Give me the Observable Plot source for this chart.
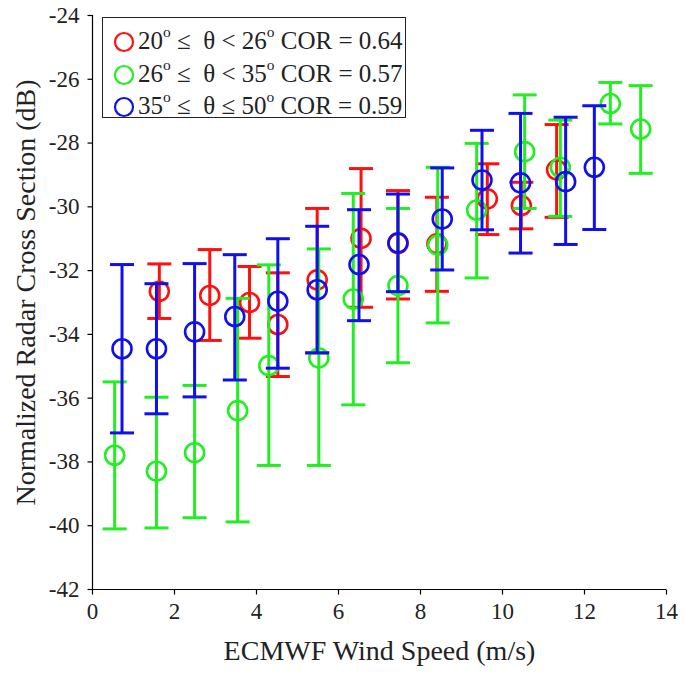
<!DOCTYPE html>
<html><head><meta charset="utf-8">
<script src="https://cdn.jsdelivr.net/npm/d3@7"></script>
<script src="https://cdn.jsdelivr.net/npm/@observablehq/plot@0.6"></script>
<style>
body{margin:0;background:#fff;}
#wrap{position:relative;width:684px;height:673px;font-family:"Liberation Serif","Times New Roman",serif;color:#000;}
#legend{position:absolute;left:102px;top:17px;width:304px;height:101px;border:1.5px solid #222;background:#fff;box-sizing:border-box;}
.row{position:absolute;left:0;height:32px;font-size:25px;line-height:32px;white-space:nowrap;color:#222;}
.row svg{position:absolute;left:10px;top:6px;}
.row span.t{position:absolute;left:35px;top:0;}
.row sup{font-size:0.62em;position:relative;top:-0.15em;vertical-align:super;line-height:0;}
</style>
</head><body>
<div id="wrap"><div id="chart"></div><div id="legend"></div></div>
<script>
// ---- data ----
const xTicks = [0, 2, 4, 6, 8, 10, 12, 14];
const yTicks = [-42, -40, -38, -36, -34, -32, -30, -28, -26, -24];
const xTickLabels = ["0", "2", "4", "6", "8", "10", "12", "14"];
const yTickLabels = ["-42", "-40", "-38", "-36", "-34", "-32", "-30", "-28", "-26", "-24"];

const seriesNames = ["20-26", "26-35", "35-50"];
const seriesColors = ["#ff1010", "#22ee22", "#1010ee"];
const legendLo = ["20", "26", "35"];
const legendHi = ["26", "35", "50"];
const legendOp1 = ["≤", "≤", "≤"];
const legendOp2 = ["<", "<", "≤"];
const corValues = ["0.64", "0.57", "0.59"];

// 20° ≤ θ < 26°
const redX  = [1.63, 2.86, 3.83, 4.52, 5.48, 6.55, 7.45, 8.40, 9.63, 10.46, 11.32];
const redY  = [-32.65, -32.78, -33.00, -33.69, -32.29, -30.99, -31.15, -31.16, -29.75, -29.96, -28.84];
const redLo = [-33.50, -34.19, -34.12, -35.32, -34.58, -33.15, -32.89, -32.65, -30.87, -30.69, -30.33];
const redHi = [-31.79, -31.34, -31.87, -32.07, -30.05, -28.80, -29.49, -29.70, -28.65, -29.23, -27.42];

// 26° ≤ θ < 35°
const greenX  = [0.54, 1.56, 2.49, 3.54, 4.30, 5.52, 6.36, 7.45, 8.42, 9.37, 10.54, 11.41, 12.63, 13.37];
const greenY  = [-37.79, -38.29, -37.71, -36.39, -34.98, -34.74, -32.89, -32.47, -31.20, -30.10, -28.27, -28.76, -26.76, -27.56];
const greenLo = [-40.10, -40.07, -39.75, -39.88, -38.11, -38.11, -36.21, -34.89, -33.64, -32.23, -30.05, -30.30, -27.40, -28.95];
const greenHi = [-35.49, -35.97, -35.60, -32.87, -31.82, -31.32, -29.58, -30.05, -28.76, -28.01, -26.49, -27.28, -26.10, -26.20];

// 35° ≤ θ ≤ 50°
const blueX  = [0.72, 1.56, 2.49, 3.47, 4.52, 5.48, 6.50, 7.45, 8.53, 9.50, 10.44, 11.54, 12.24];
const blueY  = [-34.45, -34.45, -33.92, -33.44, -32.96, -32.60, -31.81, -31.13, -30.38, -29.16, -29.25, -29.21, -28.76];
const blueLo = [-37.09, -36.49, -35.96, -35.43, -35.06, -34.58, -33.57, -32.66, -31.98, -30.72, -31.45, -31.18, -30.71];
const blueHi = [-31.81, -32.41, -31.78, -31.50, -31.00, -30.61, -30.09, -29.60, -28.78, -27.60, -27.07, -27.19, -26.83];

const xLabel = "ECMWF Wind Speed (m/s)";
const yLabel = "Normalized Radar Cross Section (dB)";

// ---- build ----
const serif = '"Liberation Serif", "Times New Roman", serif';
function rows(xs, ys, los, his) {
  return xs.map((x, i) => ({x, y: ys[i], lo: los[i], hi: his[i]}));
}
const series = [
  {data: rows(redX, redY, redLo, redHi), color: seriesColors[0]},
  {data: rows(greenX, greenY, greenLo, greenHi), color: seriesColors[1]},
  {data: rows(blueX, blueY, blueLo, blueHi), color: seriesColors[2]}
];

// symbol helpers (size = pi r^2)
const capSymbol = {
  draw(context, size) {
    const w = Math.sqrt(size / Math.PI);
    context.moveTo(-w, 0);
    context.lineTo(w, 0);
  }
};
const downTick = {
  draw(context, size) {
    const w = Math.sqrt(size / Math.PI);
    context.moveTo(0, 0);
    context.lineTo(0, w);
  }
};
const leftTick = {
  draw(context, size) {
    const w = Math.sqrt(size / Math.PI);
    context.moveTo(0, 0);
    context.lineTo(-w, 0);
  }
};

const marks = [];
for (const s of series) {
  marks.push(Plot.ruleX(s.data, {x: "x", y1: "lo", y2: "hi", stroke: s.color, strokeWidth: 3}));
  marks.push(Plot.dot(s.data, {x: "x", y: "lo", symbol: capSymbol, r: 12, fill: "none", stroke: s.color, strokeWidth: 3}));
  marks.push(Plot.dot(s.data, {x: "x", y: "hi", symbol: capSymbol, r: 12, fill: "none", stroke: s.color, strokeWidth: 3}));
  marks.push(Plot.dot(s.data, {x: "x", y: "y", r: 9.5, fill: "none", stroke: s.color, strokeWidth: 2.6}));
}

const xTickData = xTicks.map((v, i) => ({v, t: xTickLabels[i]}));
const yTickData = yTicks.map((v, i) => ({v, t: yTickLabels[i]}));

const chart = Plot.plot({
  width: 684,
  height: 673,
  marginLeft: 92,
  marginRight: 18,
  marginTop: 15,
  marginBottom: 84,
  style: {fontFamily: serif, fontSize: "23px", color: "#000", background: "#fff", overflow: "visible"},
  x: {domain: [0, 14], axis: null},
  y: {domain: [-42, -24], axis: null},
  marks: [
    Plot.dot(xTickData, {x: "v", y: () => -42, symbol: downTick, r: 5, fill: "none", stroke: "#000", strokeWidth: 1.2}),
    Plot.dot(yTickData, {x: () => 0, y: "v", symbol: leftTick, r: 5, fill: "none", stroke: "#000", strokeWidth: 1.2}),
    Plot.ruleX([0], {stroke: "#000", strokeWidth: 1.2}),
    Plot.ruleY([-42], {stroke: "#000", strokeWidth: 1.2}),
    Plot.text(xTickData, {x: "v", text: "t", frameAnchor: "bottom", dy: 22, fontSize: 23, fontFamily: serif, textAnchor: "middle", lineAnchor: "middle", fill: "#222"}),
    Plot.text(yTickData, {y: "v", text: "t", frameAnchor: "left", dx: -13, fontSize: 23, fontFamily: serif, textAnchor: "end", lineAnchor: "middle", fill: "#222"}),
    ...marks,
    Plot.text([xLabel], {frameAnchor: "bottom", dy: 62, text: d => d, fontSize: 28, fontFamily: serif, textAnchor: "middle", lineAnchor: "middle", fill: "#222"}),
    Plot.text([yLabel], {frameAnchor: "left", dx: -66, dy: -10, rotate: -90, text: d => d, fontSize: 28, fontFamily: serif, textAnchor: "middle", lineAnchor: "middle", fill: "#222"})
  ]
});
document.getElementById("chart").appendChild(chart);

// ---- legend ----
const legend = document.getElementById("legend");
seriesNames.forEach((name, i) => {
  const row = document.createElement("div");
  row.className = "row";
  row.style.top = (7 + i * 32.5) + "px";
  row.innerHTML =
    `<svg width="22" height="22"><circle cx="11" cy="11" r="9" fill="none" stroke="${seriesColors[i]}" stroke-width="2.2"/></svg>` +
    `<span class="t">${legendLo[i]}<sup>o</sup> ${legendOp1[i]}&nbsp; θ ${legendOp2[i]} ${legendHi[i]}<sup>o</sup> COR = ${corValues[i]}</span>`;
  legend.appendChild(row);
});
</script>
</body></html>
